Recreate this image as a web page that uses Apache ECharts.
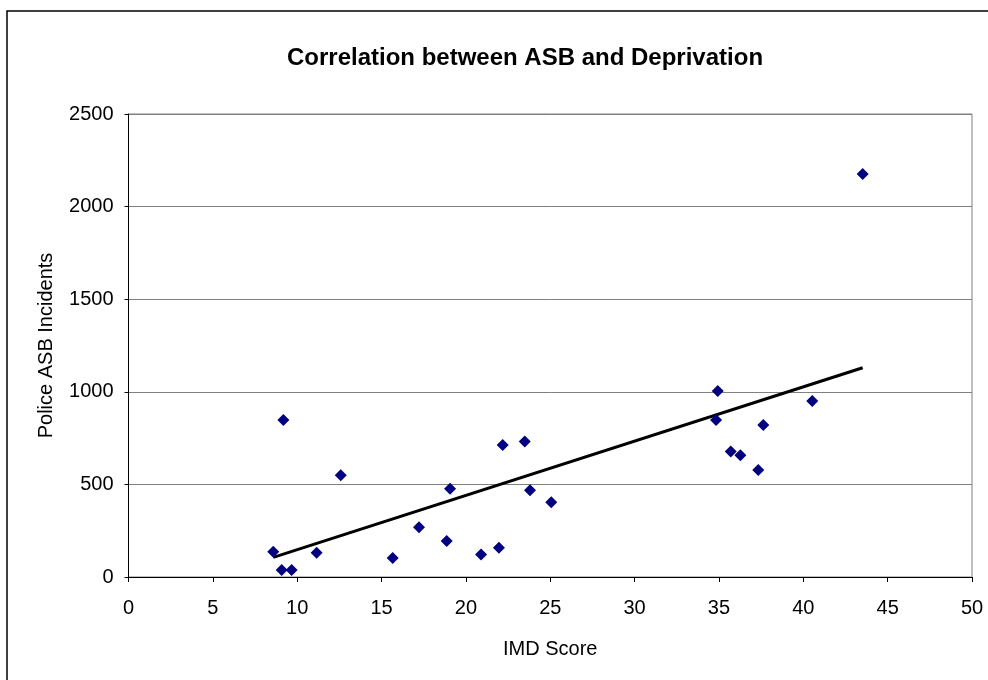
<!DOCTYPE html>
<html>
<head>
<meta charset="utf-8">
<script src="https://cdn.jsdelivr.net/npm/echarts@6/dist/echarts.min.js"></script>
<style>
  html, body { margin: 0; padding: 0; background: #fff; }
  #chart { width: 988px; height: 680px; }
</style>
</head>
<body>
<div id="chart"></div>
<script>
// IMD score vs police ASB incidents
const imdScore = [8.58, 9.08, 9.18, 9.67, 11.15, 12.58, 15.66, 17.22, 18.86, 19.06,
  20.9, 21.96, 22.18, 23.49, 23.8, 25.06, 34.83, 34.93, 35.7, 36.27,
  37.33, 37.63, 40.53, 43.52];
const asbIncidents = [137, 38, 848, 38, 131, 549, 103, 268, 194, 477,
  121, 158, 713, 731, 468, 403, 848, 1004, 677, 657,
  578, 821, 950, 2176];

// linear trend line end points (as drawn in the reference)
const trendX = [8.58, 43.52];
const trendY = [106, 1130];

const xTicks = { min: 0, max: 50, step: 5 };
const yTicks = { min: 0, max: 2500, step: 500 };

const font = 'Liberation Sans, Arial, sans-serif';

const chart = echarts.init(document.getElementById('chart'));
chart.setOption({
  animation: false,
  backgroundColor: '#fff',
  title: {
    text: 'Correlation between ASB and Deprivation',
    left: 520,
    top: 41,
    textAlign: 'center',
    textStyle: { fontFamily: font, fontSize: 24, fontWeight: 'bold', color: '#000' }
  },
  graphic: [{
    type: 'rect',
    shape: { x: 7, y: 11, width: 1000, height: 700 },
    style: { fill: 'none', stroke: '#000', lineWidth: 1.5 },
    silent: true
  }],
  grid: {
    left: 128.5, top: 114, right: 16, bottom: 103,
    show: true, borderColor: '#808080', borderWidth: 1
  },
  xAxis: {
    type: 'value',
    min: xTicks.min, max: xTicks.max, interval: xTicks.step,
    name: 'IMD Score',
    nameLocation: 'middle',
    nameGap: 62,
    nameTextStyle: { fontFamily: font, fontSize: 20, color: '#000' },
    axisLine: { show: true, lineStyle: { color: '#000', width: 1 } },
    axisTick: { show: true, length: 5, lineStyle: { color: '#000' } },
    axisLabel: { margin: 21, fontFamily: font, fontSize: 20, color: '#000' },
    splitLine: { show: false }
  },
  yAxis: {
    type: 'value',
    min: yTicks.min, max: yTicks.max, interval: yTicks.step,
    name: 'Police ASB Incidents',
    nameLocation: 'middle',
    nameGap: 72,
    nameTextStyle: { fontFamily: font, fontSize: 20, color: '#000' },
    axisLine: { show: true, lineStyle: { color: '#000', width: 1 } },
    axisTick: { show: true, length: 4, lineStyle: { color: '#000' } },
    axisLabel: {
      margin: 15, fontFamily: font, fontSize: 20, color: '#000',
      formatter: v => String(v)
    },
    splitLine: { show: true, lineStyle: { color: '#808080', width: 1 } }
  },
  series: [
    {
      type: 'scatter',
      symbol: 'diamond',
      symbolSize: 12,
      itemStyle: { color: '#000080', opacity: 1 },
      data: imdScore.map((x, i) => [x, asbIncidents[i]]),
      z: 3
    },
    {
      type: 'line',
      showSymbol: false,
      lineStyle: { color: '#000', width: 3 },
      data: trendX.map((x, i) => [x, trendY[i]]),
      z: 2
    }
  ]
});
</script>
</body>
</html>
